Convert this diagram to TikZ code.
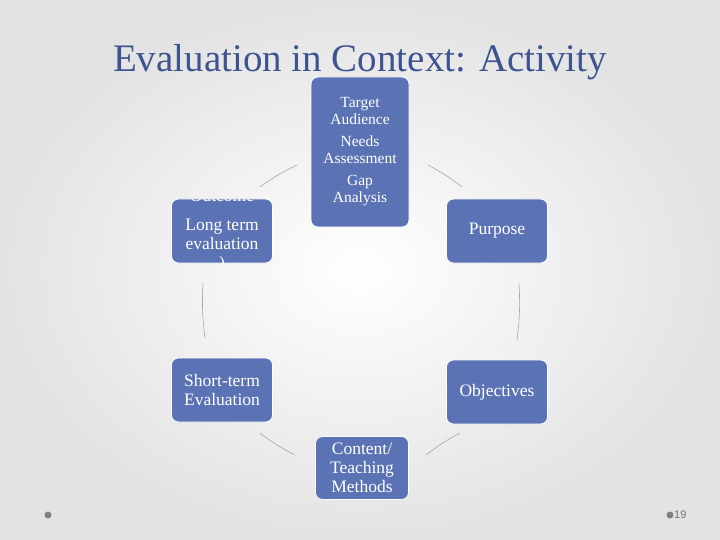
\documentclass[tikz,border=0pt]{standalone}
\usepackage{fontspec}
\setmainfont{Liberation Serif}
\newfontfamily\footfont{Liberation Sans}
\begin{document}
\begin{tikzpicture}[x=1pt,y=-1pt,
  box/.style={fill=boxblue,draw=white,line width=0.8pt,rounded corners=7pt,text=white,align=center,inner sep=0pt},
  conn/.style={draw=gray!70,line width=0.6pt},
  lbl/.style={text=white,font=\fontsize{17.5}{19}\selectfont,align=center}]
\definecolor{boxblue}{HTML}{5B73B4}
\definecolor{titleblue}{HTML}{3E5490}
\shade[inner color=white,outer color=gray!22] (0,0) rectangle (720,540);
\useasboundingbox (0,0) rectangle (720,540);
\node (title) [text=titleblue,font=\fontsize{39}{44}\selectfont] at (360,62) {Evaluation in Context: Activity};
% boxes
\node (top) [box,minimum width=98pt,minimum height=150pt,font=\fontsize{15.5}{17}\selectfont] at (360,152)
  {Target\\Audience\\[5pt]Needs\\Assessment\\[5pt]Gap\\Analysis};
\node (lt) [box,minimum width=101pt,minimum height=64pt] at (222,231) {};
\begin{scope}
\clip[rounded corners=7pt] (172,199) rectangle (273,263);
\node[lbl] at (222,196) {Outcome};
\node[lbl] at (222,234) {Long term\\evaluation};
\node[lbl] at (222,264) {)};
\end{scope}
\node (purpose) [box,minimum width=101pt,minimum height=64pt,font=\fontsize{17.5}{19}\selectfont] at (497,231) {Purpose};
\node (short) [box,minimum width=101pt,minimum height=64pt,font=\fontsize{17.5}{19}\selectfont] at (222,390) {Short-term\\Evaluation};
\node (obj) [box,minimum width=101pt,minimum height=64pt,font=\fontsize{17.5}{19}\selectfont] at (497,392) {Objectives};
\node (content) [box,minimum width=93pt,minimum height=63pt,font=\fontsize{17.5}{19}\selectfont] at (362,468) {Content/\\Teaching\\Methods};
% connectors
\coordinate (a1) at (297,165); \coordinate (a2) at (260,187);
\coordinate (b1) at (428,165); \coordinate (b2) at (462,187);
\coordinate (c1) at (203,283); \coordinate (c2) at (205,338);
\coordinate (d1) at (519,283); \coordinate (d2) at (517,340);
\coordinate (e1) at (260,433); \coordinate (e2) at (295,455);
\coordinate (f1) at (426,455); \coordinate (f2) at (460,433);
\draw[conn] (a1) to[bend right=5] (a2);
\draw[conn] (b1) to[bend left=5] (b2);
\draw[conn] (c1) to[bend right=5] (c2);
\draw[conn] (d1) to[bend left=5] (d2);
\draw[conn] (e1) to[bend right=5] (e2);
\draw[conn] (f1) to[bend left=5] (f2);
% footer
\fill[gray] (48,515) circle (3.5);
\fill[gray] (670,515) circle (3.5);
\node (pg) [text=gray!90!black,font=\footfont\fontsize{11}{13}\selectfont,anchor=west,inner sep=0pt] at (674,515) {19};
\end{tikzpicture}
\end{document}
